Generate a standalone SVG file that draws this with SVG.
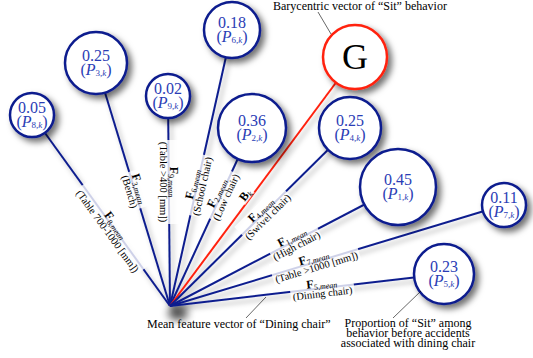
<svg xmlns="http://www.w3.org/2000/svg" width="533" height="358" viewBox="0 0 533 358" font-family="'Liberation Serif', 'Times New Roman', serif">
<defs>
<filter id="cs" x="-40%" y="-40%" width="180%" height="180%"><feDropShadow dx="4" dy="4" stdDeviation="3" flood-color="#000" flood-opacity="0.55"/></filter>
<filter id="ls" x="-20%" y="-20%" width="140%" height="140%"><feDropShadow dx="3" dy="4" stdDeviation="2.5" flood-color="#000" flood-opacity="0.3"/></filter>
<filter id="bl" x="-100%" y="-100%" width="300%" height="300%"><feGaussianBlur stdDeviation="4"/></filter>
</defs>
<style>
text{font-family:'Liberation Serif','Times New Roman',serif}
.ln{stroke:#0c1d8e;stroke-width:2;fill:none}
.red{stroke:#ff2010;stroke-width:2;fill:none}
.nd{fill:#fff;stroke:#0c1d8e;stroke-width:2.5}
.g{fill:#fff;stroke:#ff2010;stroke-width:2.5}
.v{font-size:16px;fill:#2a3db5;text-anchor:middle}
.s{font-size:9px}
.i{font-style:italic}
.lb text{fill:#000;text-anchor:middle}
.f{font-size:12px;font-weight:bold}
.sub{font-size:8px;font-weight:normal}
.t{font-size:10.5px}
.bg{fill:#fff;fill-opacity:0.8}
.an{font-size:12px;fill:#000}
.ld{stroke:#000;stroke-width:0.6;fill:none}
</style>
<rect width="533" height="358" fill="#fff"/>
<ellipse cx="178" cy="313" rx="10" ry="7" fill="#000" opacity="0.7" filter="url(#bl)"/>
<g id="connectors" filter="url(#ls)">
<line class="ln" x1="170" y1="306" x2="32" y2="115"/>
<line class="ln" x1="170" y1="306" x2="96" y2="63"/>
<line class="ln" x1="170" y1="306" x2="168" y2="96"/>
<line class="ln" x1="170" y1="306" x2="232" y2="30"/>
<line class="ln" x1="170" y1="306" x2="252" y2="128"/>
<line class="red" x1="170" y1="306" x2="355" y2="57"/>
<line class="ln" x1="170" y1="306" x2="350" y2="128"/>
<line class="ln" x1="170" y1="306" x2="398" y2="187"/>
<line class="ln" x1="170" y1="306" x2="504" y2="205"/>
<line class="ln" x1="170" y1="306" x2="444" y2="274"/>
</g>
<g id="labels" class="lb">
<g transform="translate(112,228) rotate(54)"><rect class="bg" x="-52" y="-11" width="104" height="23"/><text y="-1"><tspan class="f">F</tspan><tspan class="sub" dy="2">8,</tspan><tspan class="sub i">mean</tspan></text><text class="t" y="9">(Table 700-1000 [mm])</text></g>
<g transform="translate(135,190) rotate(73)"><rect class="bg" x="-19" y="-11" width="38" height="23"/><text y="-1"><tspan class="f">F</tspan><tspan class="sub" dy="2">3,</tspan><tspan class="sub i">mean</tspan></text><text class="t" y="9">(Bench)</text></g>
<g transform="translate(169,182) rotate(90)"><rect class="bg" x="-42" y="-11" width="84" height="23"/><text y="-1"><tspan class="f">F</tspan><tspan class="sub" dy="2">9,</tspan><tspan class="sub i">mean</tspan></text><text class="t" y="9">(Table &gt;400 [mm])</text></g>
<g transform="translate(197,185) rotate(-77.3)"><rect class="bg" x="-31" y="-11" width="62" height="23"/><text y="-1"><tspan class="f">F</tspan><tspan class="sub" dy="2">6,</tspan><tspan class="sub i">mean</tspan></text><text class="t" y="9">(School chair)</text></g>
<g transform="translate(221,195) rotate(-65.3)"><rect class="bg" x="-26" y="-11" width="52" height="23"/><text y="-1"><tspan class="f">F</tspan><tspan class="sub" dy="2">2,</tspan><tspan class="sub i">mean</tspan></text><text class="t" y="9">(Low chair)</text></g>
<g transform="translate(249,198) rotate(-53.4)"><rect class="bg" x="-8" y="-11" width="16" height="12"/><text y="-1"><tspan class="f">B</tspan><tspan class="sub i" dy="2">k</tspan></text></g>
<g transform="translate(264,213) rotate(-44.7)"><rect class="bg" x="-31" y="-11" width="62" height="23"/><text y="-1"><tspan class="f">F</tspan><tspan class="sub" dy="2">4,</tspan><tspan class="sub i">mean</tspan></text><text class="t" y="9">(Swivel chair)</text></g>
<g transform="translate(294,241) rotate(-27.6)"><rect class="bg" x="-27" y="-11" width="54" height="23"/><text y="-1"><tspan class="f">F</tspan><tspan class="sub" dy="2">1,</tspan><tspan class="sub i">mean</tspan></text><text class="t" y="9">(High chair)</text></g>
<g transform="translate(315,262) rotate(-16.8)"><rect class="bg" x="-45" y="-11" width="90" height="23"/><text y="-1"><tspan class="f">F</tspan><tspan class="sub" dy="2">7,</tspan><tspan class="sub i">mean</tspan></text><text class="t" y="9">(Table &gt;1000 [mm])</text></g>
<g transform="translate(322,288) rotate(-6.7)"><rect class="bg" x="-32" y="-11" width="64" height="23"/><text y="-1"><tspan class="f">F</tspan><tspan class="sub" dy="2">5,</tspan><tspan class="sub i">mean</tspan></text><text class="t" y="9">(Dining chair)</text></g>
</g>
<g id="node-p8"><circle class="nd" cx="32" cy="115" r="22" filter="url(#cs)"/><text class="v" x="32" y="113">0.05</text><text class="v" x="32" y="127">(<tspan class="i">P</tspan><tspan class="s" dy="1">8,</tspan><tspan class="s i">k</tspan><tspan dy="-1">)</tspan></text></g>
<g id="node-p3"><circle class="nd" cx="96" cy="63" r="31" filter="url(#cs)"/><text class="v" x="96" y="61">0.25</text><text class="v" x="96" y="75">(<tspan class="i">P</tspan><tspan class="s" dy="1">3,</tspan><tspan class="s i">k</tspan><tspan dy="-1">)</tspan></text></g>
<g id="node-p9"><circle class="nd" cx="168" cy="96" r="22" filter="url(#cs)"/><text class="v" x="168" y="94">0.02</text><text class="v" x="168" y="108">(<tspan class="i">P</tspan><tspan class="s" dy="1">9,</tspan><tspan class="s i">k</tspan><tspan dy="-1">)</tspan></text></g>
<g id="node-p6"><circle class="nd" cx="232" cy="30" r="28" filter="url(#cs)"/><text class="v" x="232" y="28">0.18</text><text class="v" x="232" y="42">(<tspan class="i">P</tspan><tspan class="s" dy="1">6,</tspan><tspan class="s i">k</tspan><tspan dy="-1">)</tspan></text></g>
<g id="node-p2"><circle class="nd" cx="252" cy="128" r="34" filter="url(#cs)"/><text class="v" x="252" y="126">0.36</text><text class="v" x="252" y="140">(<tspan class="i">P</tspan><tspan class="s" dy="1">2,</tspan><tspan class="s i">k</tspan><tspan dy="-1">)</tspan></text></g>
<g id="node-g"><circle class="g" cx="355" cy="57" r="32" filter="url(#cs)"/><text x="355" y="69" font-size="36" text-anchor="middle" fill="#000">G</text></g>
<g id="node-p4"><circle class="nd" cx="350" cy="128" r="31" filter="url(#cs)"/><text class="v" x="350" y="126">0.25</text><text class="v" x="350" y="140">(<tspan class="i">P</tspan><tspan class="s" dy="1">4,</tspan><tspan class="s i">k</tspan><tspan dy="-1">)</tspan></text></g>
<g id="node-p1"><circle class="nd" cx="398" cy="187" r="38" filter="url(#cs)"/><text class="v" x="398" y="185">0.45</text><text class="v" x="398" y="199">(<tspan class="i">P</tspan><tspan class="s" dy="1">1,</tspan><tspan class="s i">k</tspan><tspan dy="-1">)</tspan></text></g>
<g id="node-p7"><circle class="nd" cx="504" cy="205" r="22" filter="url(#cs)"/><text class="v" x="504" y="203">0.11</text><text class="v" x="504" y="217">(<tspan class="i">P</tspan><tspan class="s" dy="1">7,</tspan><tspan class="s i">k</tspan><tspan dy="-1">)</tspan></text></g>
<g id="node-p5"><circle class="nd" cx="444" cy="274" r="30" filter="url(#cs)"/><text class="v" x="444" y="272">0.23</text><text class="v" x="444" y="286">(<tspan class="i">P</tspan><tspan class="s" dy="1">5,</tspan><tspan class="s i">k</tspan><tspan dy="-1">)</tspan></text></g>
<g id="annotations">
<line class="ld" x1="318" y1="12" x2="331" y2="34"/>
<text class="an" x="273" y="10">Barycentric vector of “Sit” behavior</text>
<line class="ld" x1="246" y1="318" x2="266" y2="297"/>
<text class="an" x="147" y="328">Mean feature vector of “Dining chair”</text>
<line class="ld" x1="393" y1="318" x2="421" y2="291"/>
<text class="an" text-anchor="middle"><tspan x="408" y="327">Proportion of “Sit” among</tspan><tspan x="408" y="337">behavior before accidents</tspan><tspan x="408" y="347">associated with dining chair</tspan></text>
</g>
</svg>
